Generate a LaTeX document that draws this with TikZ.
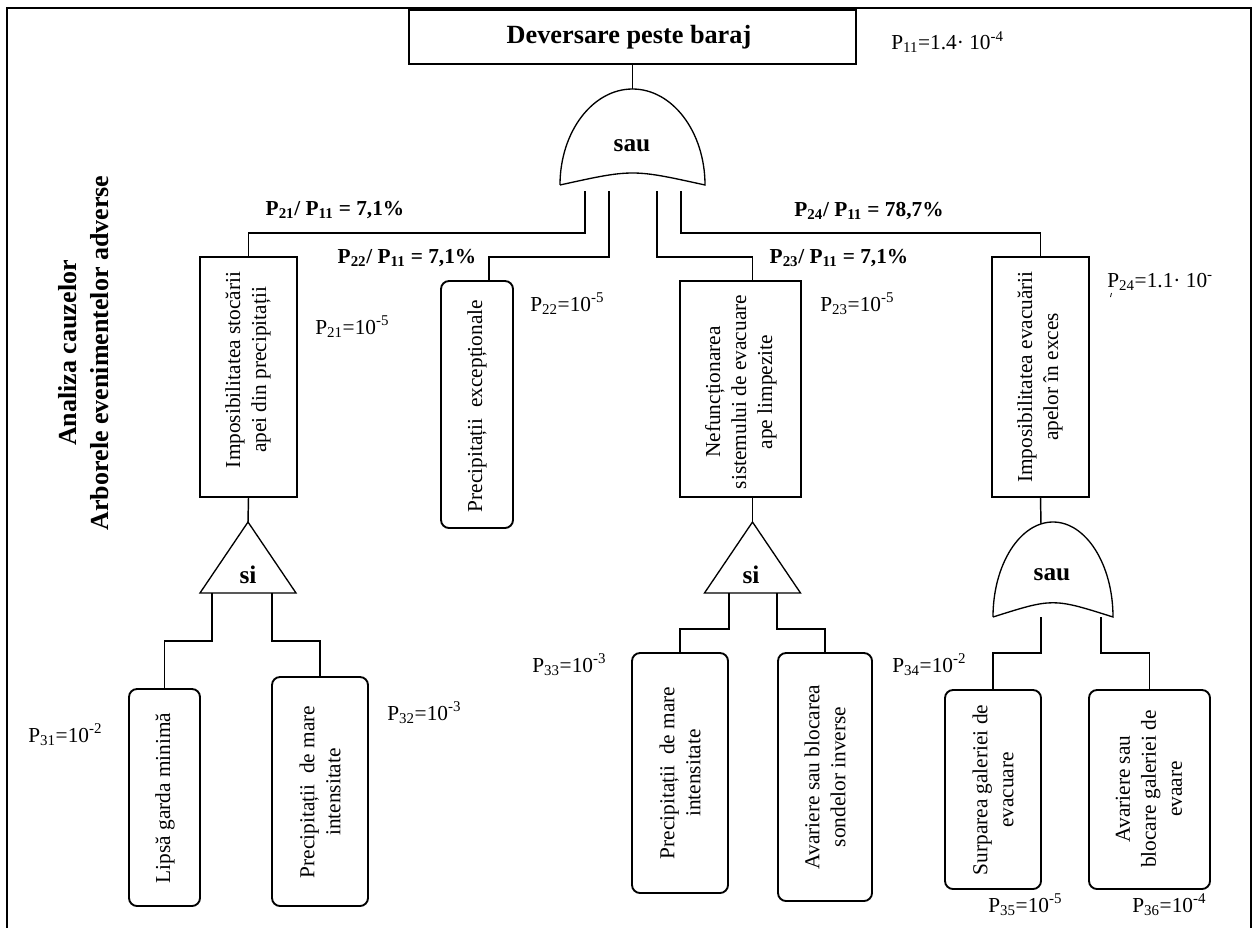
\documentclass[tikz,border=0pt]{standalone}
\usepackage{fontspec}
\setmainfont{Liberation Serif}
\usetikzlibrary{fit,calc}
\newcommand{\probl}[2]{P\textsubscript{#1}=10\textsuperscript{#2}}
\newcommand{\ratiolbl}[2]{P\textsubscript{#1}/ P\textsubscript{11} = #2}
\tikzset{
  box/.style={draw, line width=1.4pt, inner sep=0pt},
  rbox/.style={box, rounded corners=6pt},
  conn/.style={line width=1.1pt},
  gate/.style={line width=1pt},
  txt/.style={font=\fontsize{16}{19.5}\selectfont, align=center, inner sep=0pt},
  vtxt/.style={txt, rotate=90},
  lbl/.style={font=\fontsize{16}{19}\selectfont, anchor=west, inner sep=0pt},
  blbl/.style={font=\bfseries\fontsize{16}{19}\selectfont, inner sep=0pt},
  gtxt/.style={font=\bfseries\fontsize{19}{22}\selectfont, inner sep=0pt},
  ttl/.style={font=\bfseries\fontsize{19.5}{24}\selectfont, align=center, inner sep=0pt},
  frame/.style={line width=1.5pt}
}
\begin{document}
\begin{tikzpicture}[x=0.75pt,y=-0.75pt]
\useasboundingbox (0,0) rectangle (1258,928);
% frame
\draw[frame] (7,940) -- (7,8) -- (1251,8) -- (1251,940);

% title
\node[ttl, rotate=90] (title) at (84,353) {Analiza cauzelor\\Arborele evenimentelor adverse};

% top event
\node[box, fit={(409,10) (856,64)}] (top) {};
\node[font=\bfseries\fontsize{19.7}{24}\selectfont, inner sep=0pt] (toptxt) at (629,37) {Deversare peste baraj};
\node[lbl] (p11) at (891,42) {P\textsubscript{11}=1.4· 10\textsuperscript{-4}};

% OR gate 1
\draw[gate] (560,185) .. controls (560,132) and (592.5,89) .. (632.5,89)
  .. controls (672.5,89) and (705,132) .. (705,185)
  .. controls (632.5,169) .. (560,185);
\node[gtxt] (g1txt) at (632,146) {sau};
\coordinate (g1in) at (632.5,89);
\coordinate (g1o1) at (585,191);
\coordinate (g1o2) at (609,191);
\coordinate (g1o3) at (657,191);
\coordinate (g1o4) at (681,191);

% level 2 boxes
\node[box, fit={(200,257) (297,497)}] (b1) {};
\node[vtxt] (t1) at (248,370) {Imposibilitatea stocării\\apei din precipitații};
\node[rbox, fit={(441,281) (513,528)}] (b2) {};
\node[vtxt] (t2) at (477,406) {Precipitații\ \ excepționale};
\node[box, fit={(680,281) (801,497)}] (b3) {};
\node[vtxt] (t3) at (741,392) {Nefuncționarea\\sistemului de evacuare\\ape limpezite};
\node[box, fit={(992,257) (1089,497)}] (b4) {};
\node[vtxt] (t4) at (1040,377) {Imposibilitatea evacuării\\apelor în exces};

% ratio labels
\node[blbl] (r21) at (335,210) {\ratiolbl{21}{7,1\%}};
\node[blbl] (r22) at (407,258) {\ratiolbl{22}{7,1\%}};
\node[blbl] (r23) at (839,258) {\ratiolbl{23}{7,1\%}};
\node[blbl] (r24) at (869,211) {\ratiolbl{24}{78,7\%}};

% probability labels level 2
\node[lbl] (p21) at (315,327) {\probl{21}{-5}};
\node[lbl] (p22) at (530,304) {\probl{22}{-5}};
\node[lbl] (p23) at (820,304) {\probl{23}{-5}};
\node[lbl] (p24) at (1107,282) {P\textsubscript{24}=1.1· 10\textsuperscript{-}};
\draw[line width=0.6pt] (1111.5,293) -- (1110.5,297);

% connectors from gate 1
\draw[conn] (top.south) -- (g1in);
\draw[conn] (g1o1) -- ++(0,42) -| (b1.north);
\draw[conn] (g1o2) -- ++(0,66) -| ($(b2.north)+(12,0)$);
\draw[conn] (g1o3) -- ++(0,66) -| ($(b3.north)+(12,0)$);
\draw[conn] (g1o4) -- ++(0,42) -| (b4.north);

% AND gate 1
\draw[gate] (248,522) -- (296,593) -- (200,593) -- cycle;
\node[gtxt] (a1txt) at (248,575) {si};
\coordinate (a1in) at (248,522);
\coordinate (a1o1) at (212,593);
\coordinate (a1o2) at (272,593);
\draw[conn] (b1.south) -- (a1in);

% AND gate 2
\draw[gate] (752.5,522) -- (800.5,593) -- (704.5,593) -- cycle;
\node[gtxt] (a2txt) at (751,575) {si};
\coordinate (a2in) at (752.5,522);
\coordinate (a2o1) at (729,593);
\coordinate (a2o2) at (777,593);
\draw[conn] ($(b3.south)+(12,0)$) -- (a2in);

% OR gate 2
\draw[gate] (993,617) .. controls (993,564.5) and (1020,522) .. (1053,522)
  .. controls (1086,522) and (1113,564.5) .. (1113,617)
  .. controls (1053,598) .. (993,617);
\node[gtxt] (g2txt) at (1052,575) {sau};
\coordinate (g2in) at (1041,524);
\coordinate (g2o1) at (1041,617);
\coordinate (g2o2) at (1101,617);
\draw[conn] (b4.south) -- (g2in);

% level 3 boxes
\node[rbox, fit={(129,689) (200,906)}] (b31) {};
\node[vtxt] (t31) at (165,798) {Lipsă garda minimă};
\node[rbox, fit={(272,677) (368,906)}] (b32) {};
\node[vtxt] (t32) at (320,792) {Precipitații\ \ de mare\\intensitate};
\node[rbox, fit={(632,653) (728,893)}] (b33) {};
\node[vtxt] (t33) at (680,773) {Precipitații\ \ de mare\\intensitate};
\node[rbox, fit={(778,653) (872,901)}] (b34) {};
\node[vtxt] (t34) at (825,777) {Avariere sau blocarea\\sondelor inverse};
\node[rbox, fit={(945,690) (1041,889)}] (b35) {};
\node[vtxt] (t35) at (993,790) {Surparea galeriei de\\evacuare};
\node[rbox, fit={(1089,690) (1210,889)}] (b36) {};
\node[vtxt] (t36) at (1149,789) {Avariere sau\\blocare galeriei de\\evaare};

% connectors level 3
\draw[conn] (a1o1) -- ++(0,48) -| (b31.north);
\draw[conn] (a1o2) -- ++(0,48) -| (b32.north);
\draw[conn] (a2o1) -- ++(0,36) -| (b33.north);
\draw[conn] (a2o2) -- ++(0,36) -| (b34.north);
\draw[conn] (g2o1) -- ++(0,36) -| (b35.north);
\draw[conn] (g2o2) -- ++(0,36) -| (b36.north);

% probability labels level 3
\node[lbl] (p31) at (28,735) {\probl{31}{-2}};
\node[lbl] (p32) at (387,713) {\probl{32}{-3}};
\node[lbl] (p33) at (532,665) {\probl{33}{-3}};
\node[lbl] (p34) at (892,665) {\probl{34}{-2}};
\node[lbl] (p35) at (988,905) {\probl{35}{-5}};
\node[lbl] (p36) at (1132,905) {\probl{36}{-4}};
\end{tikzpicture}
\end{document}
